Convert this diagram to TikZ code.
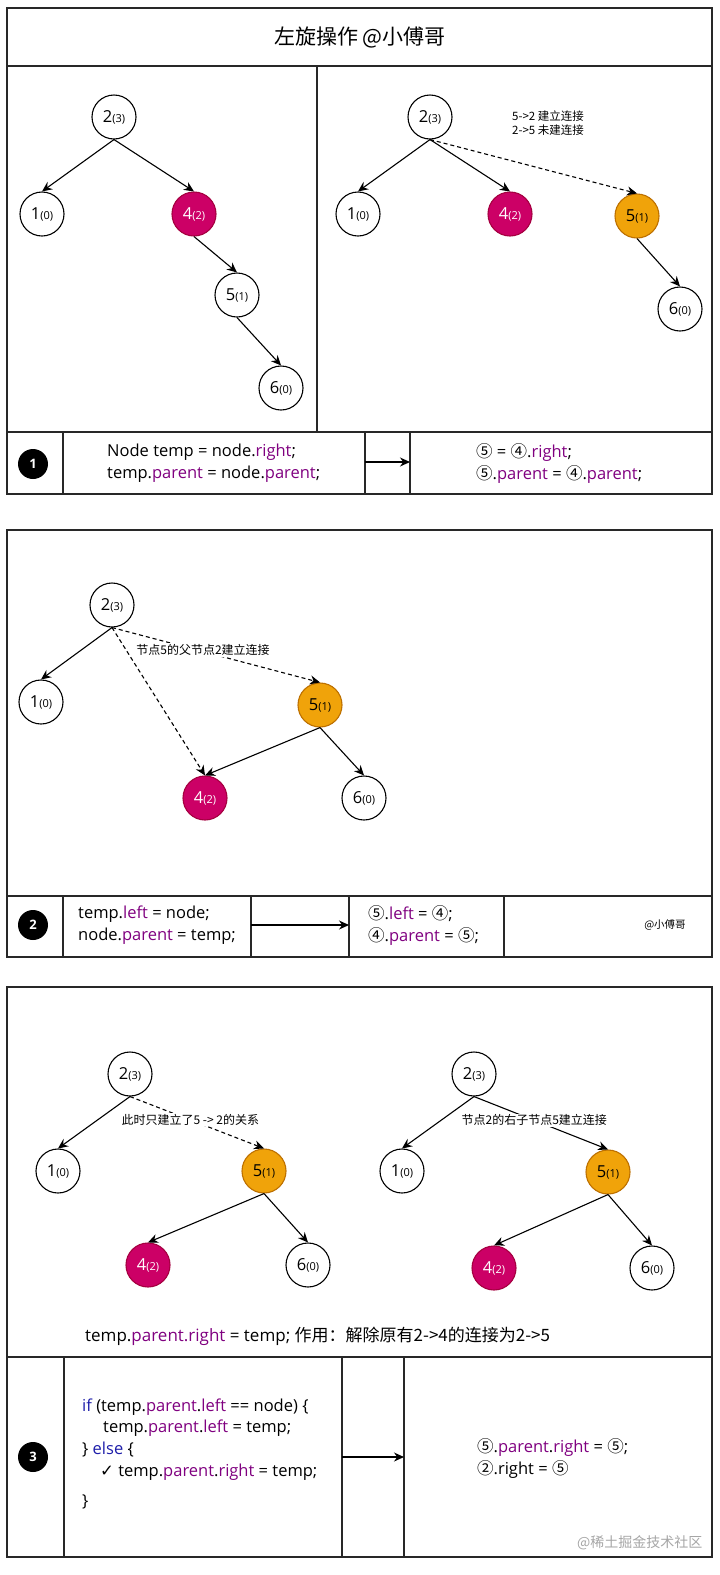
\documentclass[tikz,border=0pt]{standalone}
\usepackage{fontspec}
\setmainfont{Open Sans}
\newfontfamily\cjk{Noto Sans CJK SC}
\newfontfamily\dv{DejaVu Sans}
\usetikzlibrary{arrows.meta}
\definecolor{pur}{RGB}{128,0,128}
\definecolor{kw}{RGB}{30,30,170}
\definecolor{mag}{RGB}{204,0,102}
\definecolor{magb}{RGB}{165,0,64}
\definecolor{org}{RGB}{240,163,10}
\definecolor{orgb}{RGB}{189,112,0}
\definecolor{frame}{RGB}{40,40,40}
\newcommand{\nl}[2]{{\fontsize{16.5}{16}\selectfont #1}{\fontsize{11}{11}\selectfont(#2)}}
\newcommand{\pp}[1]{\textcolor{pur}{#1}}
\newcommand{\cn}[1]{{\cjk #1}}
\tikzset{
  tn/.style={circle, draw=black, line width=1.1pt, minimum size=44, inner sep=0pt, fill=white},
  tnm/.style={tn, fill=mag, draw=magb, text=white},
  tno/.style={tn, fill=org, draw=orgb},
  edge/.style={-{Stealth[length=10pt,width=9pt]}, line width=1.1pt},
  dedge/.style={edge, dash pattern=on 4pt off 3pt},
  box/.style={draw=frame, line width=1.2pt},
  badge/.style={circle, fill=black, minimum size=30, inner sep=0pt, text=white, font=\bfseries\fontsize{13}{13}\selectfont},
  code/.style={anchor=west, inner sep=0pt, font=\fontsize{16.5}{16}\selectfont},
  codeb/.style={anchor=west, inner sep=0pt, align=left, font=\fontsize{16.5}{22}\selectfont},
  small/.style={inner sep=1pt, font=\cjk\fontsize{12}{14}\selectfont},
}
\begin{document}
\begin{tikzpicture}[x=1pt,y=-1pt]
\useasboundingbox (0,0) rectangle (720,1575);
\fill[white] (0,0) rectangle (720,1575);

% ---------------- Panel 1 ----------------
\draw[box] (7,8) rectangle (712,494);
\draw[box] (7,66) -- (712,66);
\draw[box] (317,66) -- (317,432);
\draw[box] (7,432) -- (712,432);
\draw[box] (63,432) -- (63,494);
\draw[box] (365,432) -- (365,494);
\draw[box] (410,432) -- (410,494);
\node[font=\cjk\fontsize{21}{21}\selectfont] (title) at (360,37) {左旋操作 @小傅哥};

% left tree
\node[tn]  (a2) at (114,117) {\nl{2}{3}};
\node[tn]  (a1) at (42,214) {\nl{1}{0}};
\node[tnm] (a4) at (194,214) {\nl{4}{2}};
\node[tn]  (a5) at (237,295) {\nl{5}{1}};
\node[tn]  (a6) at (281,388) {\nl{6}{0}};
\draw[edge] (a2.south) -- (a1.north);
\draw[edge] (a2.south) -- (a4.north);
\draw[edge] (a4.south) -- (a5.north);
\draw[edge] (a5.south) -- (a6.north);

% right tree
\node[tn]  (b2) at (430,117) {\nl{2}{3}};
\node[tn]  (b1) at (358,214) {\nl{1}{0}};
\node[tnm] (b4) at (510,214) {\nl{4}{2}};
\node[tno] (b5) at (637,216) {\nl{5}{1}};
\node[tn]  (b6) at (680,309) {\nl{6}{0}};
\draw[edge] (b2.south) -- (b1.north);
\draw[edge] (b2.south) -- (b4.north);
\draw[dedge] (b2.south) -- (b5.north);
\draw[edge] (b5.south) -- (b6.north);
\node[small, anchor=west, align=left, font=\cjk\fontsize{11.5}{14}\selectfont] (bl) at (511,123) {5->2 建立连接\\2->5 未建连接};

% row 1
\node[badge] (c1) at (33,464) {1};
\node[codeb] (r1l) at (107,463) {Node temp = node.\pp{right};\\temp.\pp{parent} = node.\pp{parent};};
\coordinate (r1s) at (365,462);
\coordinate (r1e) at (410,462);
\draw[edge] (r1s) -- (r1e);
\node[codeb] (r1r) at (476,463) {\cn{⑤} = \cn{④}.\pp{right};\\\cn{⑤}.\pp{parent} = \cn{④}.\pp{parent};};

% ---------------- Panel 2 ----------------
\draw[box] (7,530) rectangle (712,957);
\draw[box] (7,896) -- (712,896);
\draw[box] (63,896) -- (63,957);
\draw[box] (251,896) -- (251,957);
\draw[box] (349,896) -- (349,957);
\draw[box] (504,896) -- (504,957);

\node[tn]  (p2) at (112,605) {\nl{2}{3}};
\node[tn]  (p1) at (41,702) {\nl{1}{0}};
\node[tno] (p5) at (320,705) {\nl{5}{1}};
\node[tnm] (p4) at (205,798) {\nl{4}{2}};
\node[tn]  (p6) at (364,798) {\nl{6}{0}};
\draw[edge] (p2.south) -- (p1.north);
\draw[dedge] (p2.south) -- (p4.north);
\draw[dedge] (p2.south) -- (p5.north);
\draw[edge] (p5.south) -- (p4.north);
\draw[edge] (p5.south) -- (p6.north);
\node[small, fill=white] (pl) at (203,650) {节点5的父节点2建立连接};

\node[badge] (c2) at (33,925) {2};
\node[codeb] (r2l) at (78,925) {temp.\pp{left} = node;\\node.\pp{parent} = temp;};
\coordinate (r2s) at (251,925);
\coordinate (r2e) at (349,925);
\draw[edge] (r2s) -- (r2e);
\node[codeb] (r2r) at (368,925) {\cn{⑤}.\pp{left} = \cn{④};\\\cn{④}.\pp{parent} = \cn{⑤};};
\node[font=\cjk\fontsize{10.5}{10}\selectfont] (sig) at (665,925) {@小傅哥};

% ---------------- Panel 3 ----------------
\draw[box] (7,987) rectangle (712,1557);
\draw[box] (7,1357) -- (712,1357);
\draw[box] (64,1357) -- (64,1557);
\draw[box] (342,1357) -- (342,1557);
\draw[box] (404,1357) -- (404,1557);

% left tree
\node[tn]  (l2) at (130,1074) {\nl{2}{3}};
\node[tn]  (l1) at (58,1171) {\nl{1}{0}};
\node[tno] (l5) at (264,1171) {\nl{5}{1}};
\node[tnm] (l4) at (148,1265) {\nl{4}{2}};
\node[tn]  (l6) at (308,1265) {\nl{6}{0}};
\draw[edge] (l2.south) -- (l1.north);
\draw[dedge] (l2.south) -- node[small, fill=white, pos=0.45] (ll) {此时只建立了5 -> 2的关系} (l5.north);
\draw[edge] (l5.south) -- (l4.north);
\draw[edge] (l5.south) -- (l6.north);

% right tree
\node[tn]  (m2) at (474,1074) {\nl{2}{3}};
\node[tn]  (m1) at (402,1171) {\nl{1}{0}};
\node[tno] (m5) at (608,1172) {\nl{5}{1}};
\node[tnm] (m4) at (494,1268) {\nl{4}{2}};
\node[tn]  (m6) at (652,1268) {\nl{6}{0}};
\draw[edge] (m2.south) -- (m1.north);
\draw[edge] (m2.south) -- node[small, fill=white, pos=0.45] (ml) {节点2的右子节点5建立连接} (m5.north);
\draw[edge] (m5.south) -- (m4.north);
\draw[edge] (m5.south) -- (m6.north);

\node[code, font=\fontsize{17}{17}\selectfont] (note) at (85,1336) {temp.\pp{parent.right} = temp; \cn{作用：解除原有2->4的连接为2->5}};

\node[badge] (c3) at (33,1457) {3};
\node[code] (k1) at (82,1407) {\textcolor{kw}{if} (temp.\pp{parent}.\pp{left} == node) \{};
\node[code] (k2) at (103,1428) {temp.\pp{parent}.\pp{left} = temp;};
\node[code] (k3) at (82,1450) {\} \textcolor{kw}{else} \{};
\node[code] (k4) at (100,1472) {{\dv ✓} temp.\pp{parent}.\pp{right} = temp;};
\node[code] (k5) at (82,1502) {\}};
\coordinate (r3s) at (342,1457);
\coordinate (r3e) at (404,1457);
\draw[edge] (r3s) -- (r3e);
\node[codeb] (r3r) at (477,1458) {\cn{⑤}.\pp{parent}.\pp{right} = \cn{⑤};\\\cn{②}.right = \cn{⑤}};
\node[font=\cjk\fontsize{14}{14}\selectfont, text=black!35, anchor=east] (wm) at (706,1543) {@稀土掘金技术社区};
\end{tikzpicture}
\end{document}
